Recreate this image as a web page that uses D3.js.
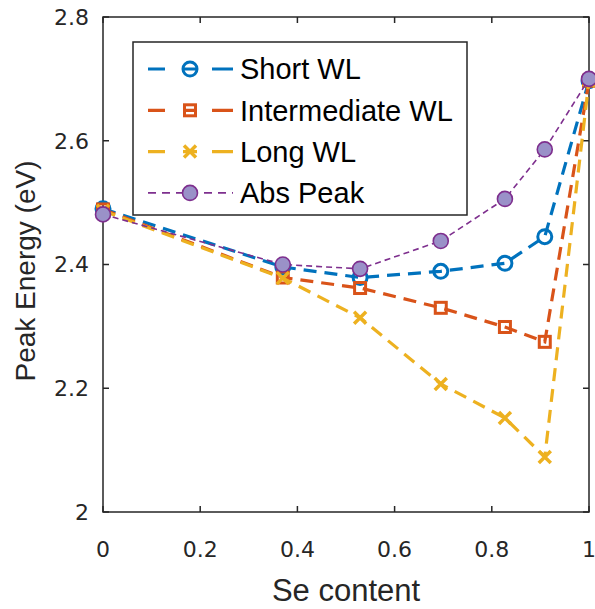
<!DOCTYPE html>
<html>
<head>
<meta charset="utf-8">
<script src="https://cdn.jsdelivr.net/npm/d3@7"></script>
<style>
  body { margin: 0; background: #fff; }
  svg { display: block; }
</style>
</head>
<body>
<div id="chart"></div>
<script>
var svgWidth = 595;
var svgHeight = 609;

var margin = { top: 17, right: 6, bottom: 97, left: 103 };
var width = svgWidth - margin.left - margin.right;
var height = svgHeight - margin.top - margin.bottom;

// Se content values
var seContent = [0, 0.37, 0.529, 0.695, 0.827, 0.909, 1];

// Peak energies (eV)
var shortWL = [2.490, 2.396, 2.379, 2.389, 2.402, 2.445, 2.697];
var intermediateWL = [2.489, 2.379, 2.362, 2.330, 2.299, 2.275, 2.697];
var longWL = [2.487, 2.378, 2.314, 2.207, 2.152, 2.089, 2.697];
var absPeak = [2.481, 2.400, 2.393, 2.438, 2.506, 2.586, 2.700];

var seriesNames = ["Short WL", "Intermediate WL", "Long WL", "Abs Peak"];

var xTicks = [0, 0.2, 0.4, 0.6, 0.8, 1];
var yTicks = [2, 2.2, 2.4, 2.6, 2.8];

var series = [
  { name: seriesNames[0], values: shortWL, color: "#0072BD", marker: "circle", dash: "13,8", lw: 3.2 },
  { name: seriesNames[1], values: intermediateWL, color: "#D95319", marker: "square", dash: "13,8", lw: 3.2 },
  { name: seriesNames[2], values: longWL, color: "#EDB120", marker: "x", dash: "13,8", lw: 3.2 },
  { name: seriesNames[3], values: absPeak, color: "#7E2F8E", marker: "abs", dash: "6,4", lw: 1.6 }
];

var svg = d3.select("#chart")
  .append("svg")
  .attr("width", svgWidth)
  .attr("height", svgHeight);

var chartGroup = svg.append("g")
  .attr("transform", `translate(${margin.left}, ${margin.top})`);

var xScale = d3.scaleLinear().domain([0, 1]).range([0, width]);
var yScale = d3.scaleLinear().domain([2, 2.8]).range([height, 0]);

// frame
chartGroup.append("rect")
  .attr("x", 0).attr("y", 0)
  .attr("width", width).attr("height", height)
  .attr("fill", "none")
  .attr("stroke", "#262626")
  .attr("stroke-width", 1.5);

var tickLen = 6;
var tickGroup = chartGroup.append("g").attr("stroke", "#262626").attr("stroke-width", 1.5);
xTicks.forEach(function(t) {
  tickGroup.append("line").attr("x1", xScale(t)).attr("x2", xScale(t)).attr("y1", height).attr("y2", height - tickLen);
  tickGroup.append("line").attr("x1", xScale(t)).attr("x2", xScale(t)).attr("y1", 0).attr("y2", tickLen);
});
yTicks.forEach(function(t) {
  tickGroup.append("line").attr("x1", 0).attr("x2", tickLen).attr("y1", yScale(t)).attr("y2", yScale(t));
  tickGroup.append("line").attr("x1", width).attr("x2", width - tickLen).attr("y1", yScale(t)).attr("y2", yScale(t));
});

// tick labels
chartGroup.selectAll(".xtick")
  .data(xTicks)
  .enter()
  .append("text")
  .attr("x", d => xScale(d))
  .attr("y", height + 45)
  .attr("text-anchor", "middle")
  .attr("font-family", "'DejaVu Sans', sans-serif")
  .attr("font-size", "22px")
  .attr("fill", "#262626")
  .text(d => d3.format("")(d));

chartGroup.selectAll(".ytick")
  .data(yTicks)
  .enter()
  .append("text")
  .attr("x", -14)
  .attr("y", d => yScale(d))
  .attr("dy", "0.36em")
  .attr("text-anchor", "end")
  .attr("font-family", "'DejaVu Sans', sans-serif")
  .attr("font-size", "22px")
  .attr("fill", "#262626")
  .text(d => d3.format("")(d));

// axis titles
chartGroup.append("text")
  .attr("x", width / 2)
  .attr("y", height + 89)
  .attr("text-anchor", "middle")
  .attr("font-family", "'Liberation Sans', Arial, sans-serif")
  .attr("font-size", "31px")
  .attr("fill", "#262626")
  .text("Se content");

chartGroup.append("text")
  .attr("transform", `translate(-68, 254) rotate(-90)`)
  .attr("text-anchor", "middle")
  .attr("font-family", "'Liberation Sans', Arial, sans-serif")
  .attr("font-size", "28px")
  .attr("fill", "#262626")
  .text("Peak Energy (eV)");

function drawMarker(g, s, x, y) {
  if (s.marker === "circle") {
    g.append("circle").attr("cx", x).attr("cy", y).attr("r", 7)
      .attr("fill", "none").attr("stroke", s.color).attr("stroke-width", 3);
  } else if (s.marker === "square") {
    g.append("rect").attr("x", x - 5.5).attr("y", y - 5.5).attr("width", 11).attr("height", 11)
      .attr("fill", "none").attr("stroke", s.color).attr("stroke-width", 3);
  } else if (s.marker === "x") {
    var k = 6;
    g.append("path").attr("d", `M${x - k},${y - k}L${x + k},${y + k}M${x - k},${y + k}L${x + k},${y - k}`)
      .attr("stroke", s.color).attr("stroke-width", 3.5);
  } else {
    g.append("circle").attr("cx", x).attr("cy", y).attr("r", 7.5)
      .attr("fill", "#9A91C8").attr("stroke", s.color).attr("stroke-width", 1.6);
  }
}

var line = d3.line()
  .x(d => xScale(d[0]))
  .y(d => yScale(d[1]));

series.forEach(function(s) {
  var pts = seContent.map((x, i) => [x, s.values[i]]);
  var g = chartGroup.append("g");
  g.append("path")
    .datum(pts)
    .attr("d", line)
    .attr("fill", "none")
    .attr("stroke", s.color)
    .attr("stroke-width", s.lw)
    .attr("stroke-dasharray", s.dash);
  pts.forEach(function(p) {
    drawMarker(g, s, xScale(p[0]), yScale(p[1]));
  });
});

// legend
var legend = svg.append("g");
legend.append("rect")
  .attr("x", 133).attr("y", 42)
  .attr("width", 334).attr("height", 173)
  .attr("fill", "#fff")
  .attr("stroke", "#262626")
  .attr("stroke-width", 1.5);

series.forEach(function(s, i) {
  var y = 69 + i * 41.3;
  var g = legend.append("g");
  g.append("line")
    .attr("x1", 148).attr("x2", 233)
    .attr("y1", y).attr("y2", y)
    .attr("stroke", s.color)
    .attr("stroke-width", s.lw)
    .attr("stroke-dasharray", s.marker === "abs" ? "8,6" : "17,18,14,15,21");
  drawMarker(g, s, 190, y);
  g.append("text")
    .attr("x", 240).attr("y", y)
    .attr("dy", "0.36em")
    .attr("font-family", "'Liberation Sans', Arial, sans-serif")
    .attr("font-size", "29px")
    .attr("fill", "#000")
    .text(s.name);
});
</script>
</body>
</html>
